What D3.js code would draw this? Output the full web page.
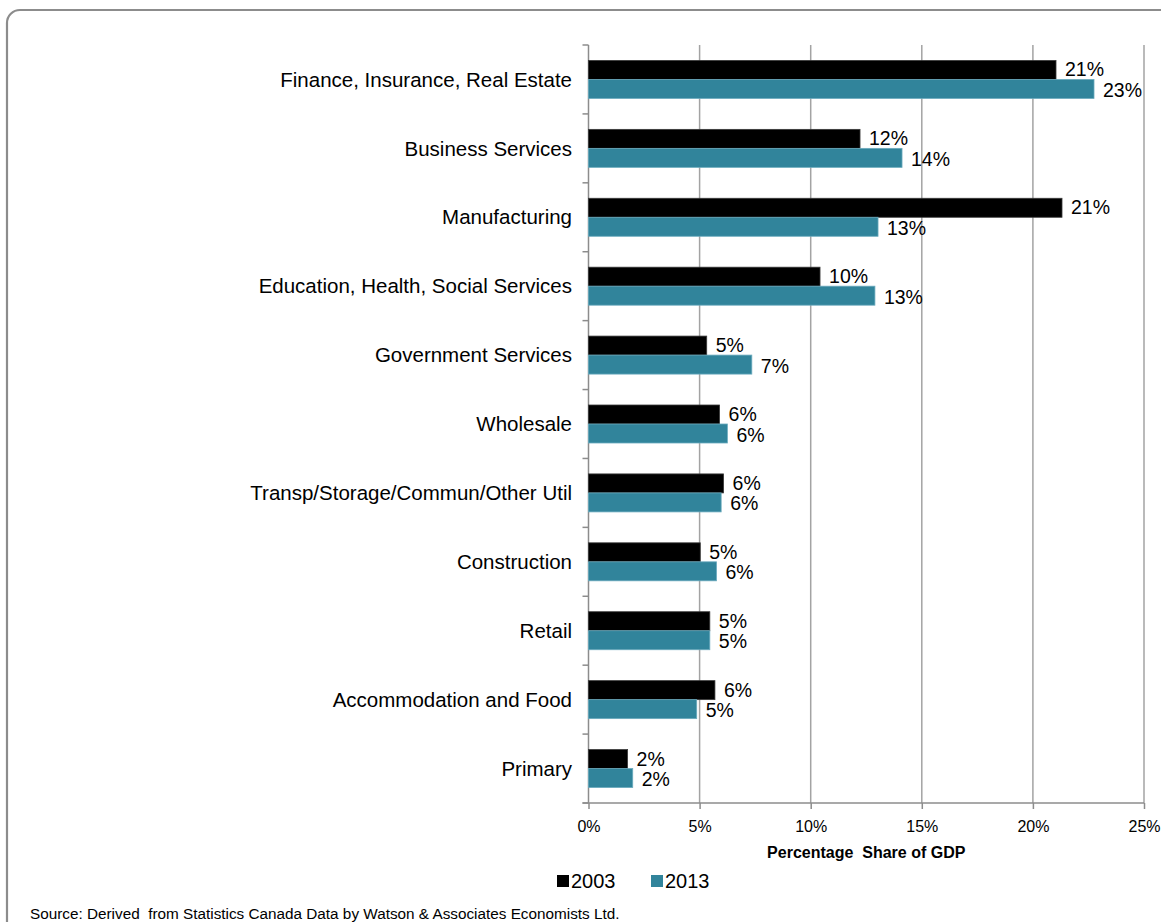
<!DOCTYPE html>
<html>
<head>
<meta charset="utf-8">
<script src="https://cdn.jsdelivr.net/npm/d3@7"></script>
<style>
  html, body { margin: 0; padding: 0; background: #fff; }
  svg { display: block; font-family: "Liberation Sans", Arial, sans-serif; }
</style>
</head>
<body>
<svg id="chart" width="1161" height="922"></svg>
<script>
// Industry sectors, top to bottom
const categories = [
  "Finance, Insurance, Real Estate",
  "Business Services",
  "Manufacturing",
  "Education, Health, Social Services",
  "Government Services",
  "Wholesale",
  "Transp/Storage/Commun/Other Util",
  "Construction",
  "Retail",
  "Accommodation and Food",
  "Primary"
];

// Share of GDP by sector
const values2003 = [0.2104, 0.1222, 0.2131, 0.1042, 0.0532, 0.0590, 0.0608, 0.0503, 0.0546, 0.0569, 0.0176];
const values2013 = [0.2275, 0.1411, 0.1303, 0.1289, 0.0735, 0.0625, 0.0597, 0.0576, 0.0546, 0.0487, 0.0199];

const seriesNames = ["2003", "2013"];
const seriesColors = ["#000000", "#31849b"];

const xTicks = [0, 0.05, 0.10, 0.15, 0.20, 0.25];
const xTitle = "Percentage  Share of GDP";
const sourceNote = "Source: Derived  from Statistics Canada Data by Watson & Associates Economists Ltd.";

const svg = d3.select("#chart");

// Rounded frame around the chart
svg.append("rect")
  .attr("x", 7).attr("y", 10)
  .attr("width", 1175).attr("height", 925)
  .attr("rx", 13).attr("ry", 13)
  .attr("fill", "none")
  .attr("stroke", "#8c8c8c")
  .attr("stroke-width", 2.2);

const plot = { left: 588.5, right: 1144, top: 45, bottom: 803 };

const x = d3.scaleLinear().domain([0, 0.25]).range([plot.left, plot.right]);
const y = d3.scaleBand().domain(categories).range([plot.top, plot.bottom]).paddingInner(0).paddingOuter(0);

const barH = 19;
const pct = d3.format(".0%");

// Vertical gridlines
svg.append("g")
  .selectAll("line")
  .data(xTicks.slice(1))
  .join("line")
  .attr("x1", d => x(d)).attr("x2", d => x(d))
  .attr("y1", plot.top).attr("y2", plot.bottom)
  .attr("stroke", "#a3a3a3")
  .attr("stroke-width", 1.5);

// Bottom axis with ticks below
const xAxis = d3.axisBottom(x).tickValues(xTicks).tickFormat(pct).tickSize(6).tickSizeOuter(0);
const gx = svg.append("g")
  .attr("transform", `translate(0,${plot.bottom})`)
  .call(xAxis);
gx.select(".domain").attr("stroke", "#8c8c8c").attr("stroke-width", 1.5)
  .attr("d", `M${plot.left - 6},0H${plot.right}`);
gx.selectAll(".tick line").attr("stroke", "#8c8c8c").attr("stroke-width", 1.5);
gx.selectAll(".tick text")
  .attr("font-size", 16)
  .attr("fill", "#000")
  .attr("dy", null)
  .attr("y", 29);

// Left axis: line plus tick marks at category boundaries
const boundaries = d3.range(categories.length + 1).map(i => plot.top + i * y.step());
svg.append("line")
  .attr("x1", plot.left).attr("x2", plot.left)
  .attr("y1", plot.top).attr("y2", plot.bottom)
  .attr("stroke", "#8c8c8c").attr("stroke-width", 1.5);
svg.append("g")
  .selectAll("line")
  .data(boundaries)
  .join("line")
  .attr("x1", plot.left - 6).attr("x2", plot.left)
  .attr("y1", d => d).attr("y2", d => d)
  .attr("stroke", "#8c8c8c").attr("stroke-width", 1.5);

// Category labels
svg.append("g")
  .selectAll("text")
  .data(categories)
  .join("text")
  .attr("x", 572)
  .attr("y", d => y(d) + y.bandwidth() / 2)
  .attr("dy", "0.35em")
  .attr("text-anchor", "end")
  .attr("font-size", 20.5)
  .attr("fill", "#000")
  .text(d => d);

// Bars for both years, each with its value label at the outside end
const series = [values2003, values2013];
series.forEach((vals, si) => {
  const rows = categories.map((c, i) => ({ c, v: vals[i] }));
  const g = svg.append("g");
  g.selectAll("rect")
    .data(rows)
    .join("rect")
    .attr("x", x(0))
    .attr("y", d => y(d.c) + y.bandwidth() / 2 - barH + si * barH)
    .attr("width", d => x(d.v) - x(0))
    .attr("height", barH)
    .attr("fill", seriesColors[si])
    .attr("stroke", si === 0 ? "#3a3a3a" : "#6aaabd")
    .attr("stroke-width", 0.8);
  g.selectAll("text")
    .data(rows)
    .join("text")
    .attr("x", d => x(d.v) + 9)
    .attr("y", d => y(d.c) + y.bandwidth() / 2 - barH / 2 + si * barH + (si === 0 ? -0.5 : 1))
    .attr("dy", "0.36em")
    .attr("font-size", 19.5)
    .attr("fill", "#000")
    .text(d => pct(d.v));
});

// Axis title
svg.append("text")
  .attr("x", (plot.left + plot.right) / 2)
  .attr("y", 858)
  .attr("text-anchor", "middle")
  .attr("font-size", 16)
  .attr("font-weight", "bold")
  .attr("fill", "#000")
  .attr("xml:space", "preserve")
  .style("white-space", "pre")
  .text(xTitle);

// Legend
const legendX = [557, 651];
const legend = svg.append("g");
seriesNames.forEach((name, i) => {
  legend.append("rect")
    .attr("x", legendX[i]).attr("y", 875)
    .attr("width", 12).attr("height", 12)
    .attr("fill", seriesColors[i]);
  legend.append("text")
    .attr("x", legendX[i] + 14).attr("y", 881)
    .attr("dy", "0.36em")
    .attr("font-size", 20)
    .attr("fill", "#000")
    .text(name);
});

// Source note
svg.append("text")
  .attr("x", 30).attr("y", 919)
  .attr("font-size", 15.3)
  .attr("fill", "#000")
  .attr("xml:space", "preserve")
  .style("white-space", "pre")
  .text(sourceNote);
</script>
</body>
</html>
